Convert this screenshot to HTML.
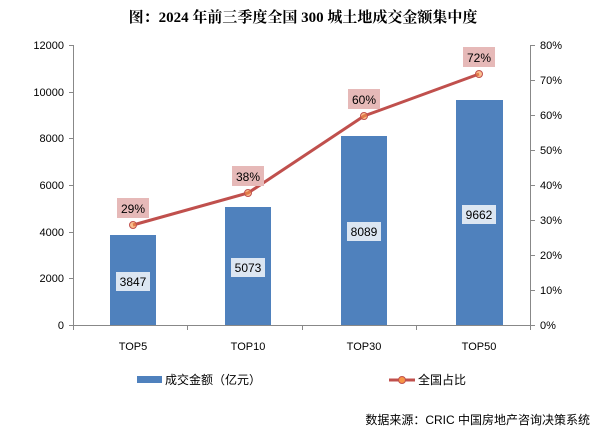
<!DOCTYPE html>
<html><head><meta charset="utf-8"><style>
body{margin:0;background:#fff}
svg text{font-family:"Liberation Sans","Noto Sans CJK SC",sans-serif;font-size:11px;fill:#000}
</style></head><body>
<svg width="606" height="434" viewBox="0 0 606 434" xmlns="http://www.w3.org/2000/svg">
<rect width="606" height="434" fill="#fff"/>
<text x="303" y="22" text-anchor="middle" style="font-family:'Liberation Serif','Noto Serif CJK SC',serif;font-size:15px;font-weight:bold">图：2024 年前三季度全国 300 城土地成交金额集中度</text>
<g stroke="#888" stroke-width="1" fill="none">
<line x1="73.5" y1="45" x2="73.5" y2="325"/>
<line x1="530.5" y1="45" x2="530.5" y2="330"/>
<line x1="69" y1="325.5" x2="535" y2="325.5"/>
<line x1="69" y1="45.5" x2="73" y2="45.5"/><line x1="69" y1="92.5" x2="73" y2="92.5"/><line x1="69" y1="138.5" x2="73" y2="138.5"/><line x1="69" y1="185.5" x2="73" y2="185.5"/><line x1="69" y1="232.5" x2="73" y2="232.5"/><line x1="69" y1="278.5" x2="73" y2="278.5"/>
<line x1="530" y1="45.5" x2="535" y2="45.5"/><line x1="530" y1="80.5" x2="535" y2="80.5"/><line x1="530" y1="115.5" x2="535" y2="115.5"/><line x1="530" y1="150.5" x2="535" y2="150.5"/><line x1="530" y1="185.5" x2="535" y2="185.5"/><line x1="530" y1="220.5" x2="535" y2="220.5"/><line x1="530" y1="255.5" x2="535" y2="255.5"/><line x1="530" y1="290.5" x2="535" y2="290.5"/>
<line x1="73.5" y1="325" x2="73.5" y2="330"/><line x1="187.5" y1="325" x2="187.5" y2="330"/><line x1="302.5" y1="325" x2="302.5" y2="330"/><line x1="416.5" y1="325" x2="416.5" y2="330"/>
</g>
<g text-anchor="end">
<text x="64" y="49">12000</text><text x="64" y="96">10000</text><text x="64" y="142">8000</text><text x="64" y="189">6000</text><text x="64" y="236">4000</text><text x="64" y="282">2000</text><text x="64" y="329">0</text>
</g>
<g text-anchor="start">
<text x="540" y="49">80%</text><text x="540" y="84">70%</text><text x="540" y="119">60%</text><text x="540" y="154">50%</text><text x="540" y="189">40%</text><text x="540" y="224">30%</text><text x="540" y="259">20%</text><text x="540" y="294">10%</text><text x="540" y="329">0%</text>
</g>
<g fill="#4f81bd">
<rect x="110" y="235" width="46" height="90"/>
<rect x="225" y="207" width="46" height="118"/>
<rect x="341" y="136" width="46" height="189"/>
<rect x="456" y="100" width="47" height="225"/>
</g>
<g text-anchor="middle">
<text x="133" y="350">TOP5</text><text x="248" y="350">TOP10</text><text x="364" y="350">TOP30</text><text x="479" y="350">TOP50</text>
</g>
<g fill="#dce6f2">
<rect x="116" y="272" width="34" height="19"/><rect x="231" y="258" width="34" height="19"/><rect x="347" y="222" width="34" height="19"/><rect x="462" y="205" width="34" height="19"/>
</g>
<g text-anchor="middle" style="font-size:12px">
<text x="133" y="286" style="font-size:12px">3847</text><text x="248" y="272" style="font-size:12px">5073</text><text x="364" y="236" style="font-size:12px">8089</text><text x="479" y="219" style="font-size:12px">9662</text>
</g>
<polyline points="133,225 248,193 364,116 479,74" fill="none" stroke="#c0504d" stroke-width="3"/>
<g fill="#f79646" fill-opacity="0.6" stroke="#c0504d" stroke-width="1">
<circle cx="133" cy="225" r="3.5"/><circle cx="248" cy="193" r="3.5"/><circle cx="364" cy="116" r="3.5"/><circle cx="479" cy="74" r="3.5"/>
</g>
<g fill="#e6b9b8">
<rect x="117" y="198" width="32" height="20"/><rect x="232" y="166" width="32" height="20"/><rect x="348" y="89" width="32" height="20"/><rect x="463" y="47" width="32" height="20"/>
</g>
<g text-anchor="middle">
<text x="133" y="213" style="font-size:12px">29%</text><text x="248" y="181" style="font-size:12px">38%</text><text x="364" y="104" style="font-size:12px">60%</text><text x="479" y="62" style="font-size:12px">72%</text>
</g>
<rect x="137" y="376" width="25" height="7" fill="#4f81bd"/>
<text x="165" y="384" style="font-size:12px">成交金额（亿元）</text>
<line x1="389" y1="380" x2="415" y2="380" stroke="#c0504d" stroke-width="3"/>
<circle cx="402" cy="380" r="3.5" fill="#f79646" stroke="#c0504d"/>
<text x="418" y="384" style="font-size:12px">全国占比</text>
<text x="590" y="424" text-anchor="end" style="font-size:12px">数据来源：CRIC 中国房地产咨询决策系统</text>
</svg>
</body></html>
